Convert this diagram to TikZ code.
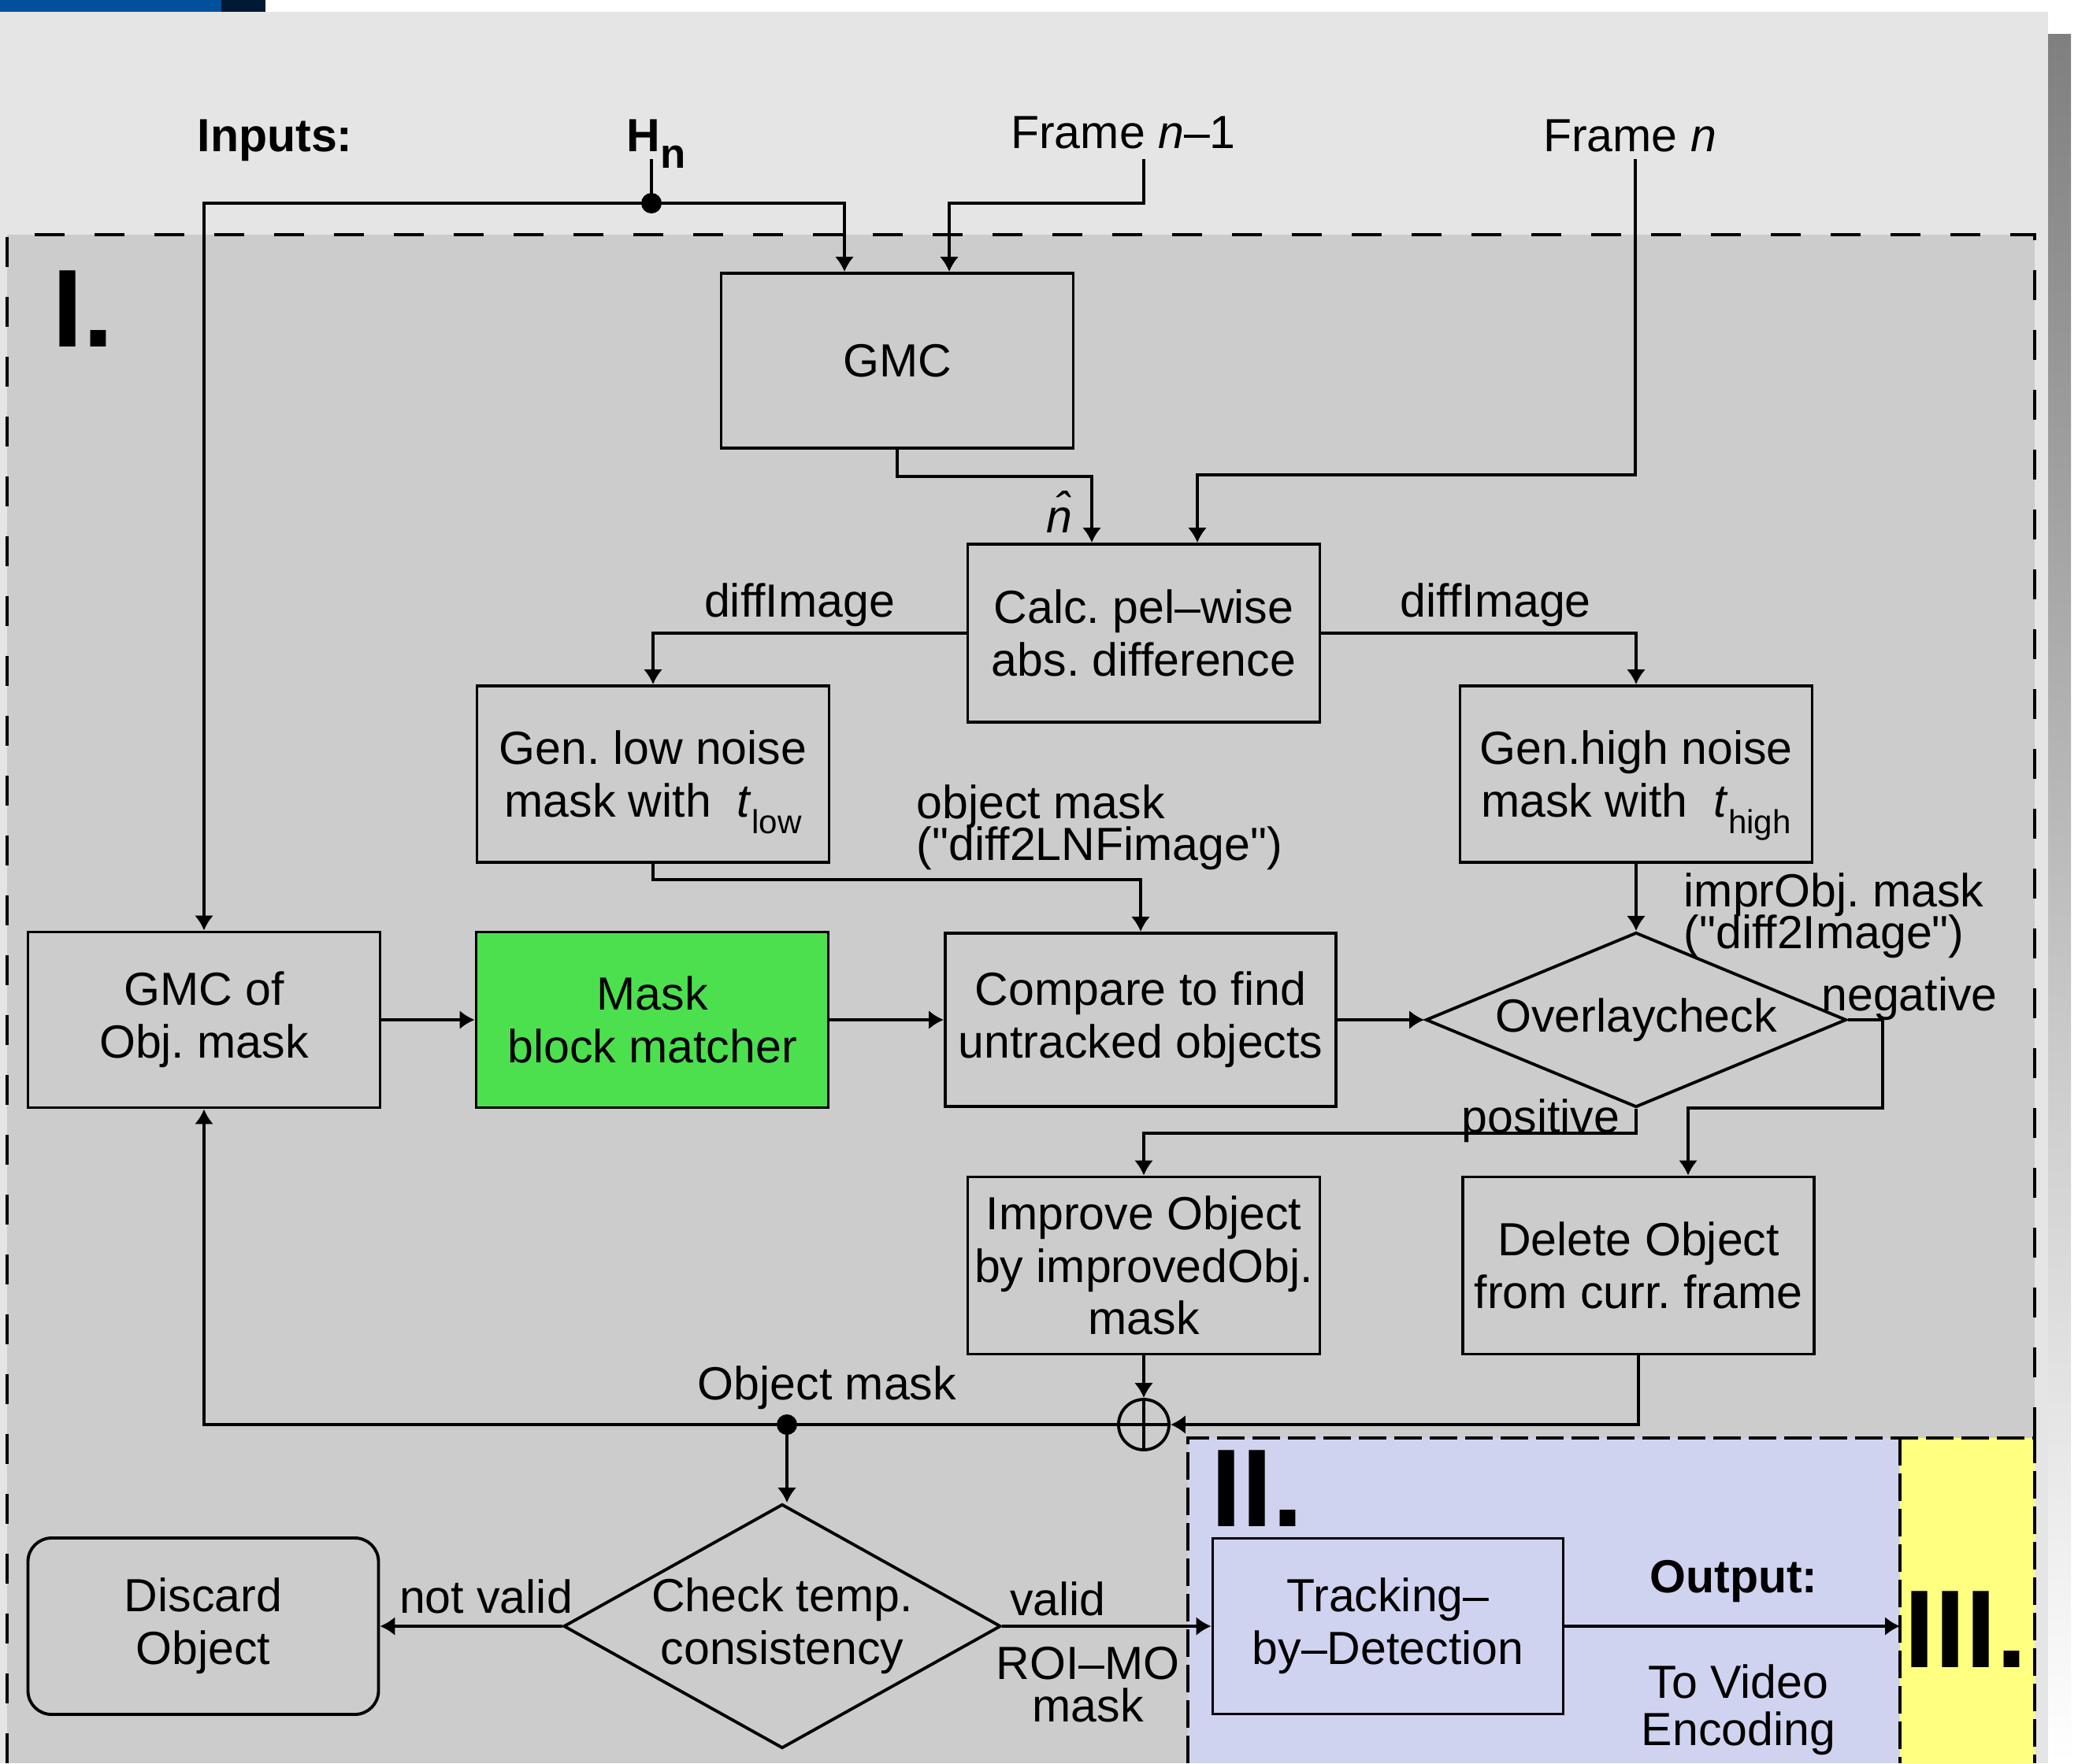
\documentclass[tikz,border=0pt]{standalone}
\usepackage{fontspec}
\setmainfont{Liberation Sans}
\usetikzlibrary{arrows.meta,shapes.geometric,positioning}
\definecolor{panel}{HTML}{E5E5E5}
\definecolor{zoneone}{HTML}{CCCCCC}
\definecolor{zonetwo}{HTML}{D0D3EF}
\definecolor{zonethree}{HTML}{FFFF80}
\definecolor{matchgreen}{HTML}{4CE04F}
\definecolor{barblue}{HTML}{00509B}
\definecolor{barnavy}{HTML}{001A33}
\definecolor{shade}{HTML}{939393}
\newcommand{\lowsub}[1]{\raisebox{-6pt}[0pt][0pt]{\fontsize{12}{12}\selectfont #1}}
\frenchspacing
\setlength{\lineskiplimit}{-10pt}
\begin{document}
\begin{tikzpicture}[font=\fontsize{16.8}{19}\selectfont,>={Latex[length=1.9mm,width=2.4mm]},
  box/.style={draw,line width=1.1pt,inner sep=0pt,align=center,minimum width=4.47cm,minimum height=2.23cm},
  dec/.style={draw,diamond,line width=1.1pt,inner sep=0pt,align=center},
  lbl/.style={inner sep=0pt,align=center},
  tight/.style={font=\fontsize{16.8}{15.2}\selectfont},
  wire/.style={line width=0.95pt},
  zone/.style={line width=1.3pt,dash pattern=on 3.8mm off 3.8mm},
  subzone/.style={line width=1.3pt,dash pattern=on 3.5mm off 1mm},
  bignum/.style={inner sep=0pt,anchor=base west,font=\fontsize{40}{40}\selectfont\bfseries}]
\useasboundingbox (0,0) rectangle (26.38,-22.39);
\fill[white] (0,0) rectangle (26.38,-22.39);
\fill[barblue] (0,0) rectangle (2.81,-0.15);
\fill[barnavy] (2.81,0) rectangle (3.37,-0.15);
\fill[panel] (0,-0.15) rectangle (26.00,-22.39);
\fill[shade] (26.00,-0.43) rectangle (26.29,-22.39);
\fill[zoneone] (0.09,-2.98) rectangle (25.83,-22.39);
\fill[zonetwo] (15.08,-18.26) rectangle (24.12,-22.39);
\fill[zonethree] (24.12,-18.26) rectangle (25.83,-22.39);
\draw[zone] (0.09,-22.39) |- (25.83,-2.98) -- (25.83,-18.26);
\draw[subzone] (15.08,-22.39) |- (25.83,-18.26) -- (25.83,-22.39);
\draw[subzone] (24.12,-18.26) -- (24.12,-22.39);

\node[bignum] (one) at (0.66,-4.40) {I.};
\node[bignum] (two) at (15.37,-19.38) {II.};
\node[bignum] (three) at (24.17,-21.17) {III.};

\node[lbl,anchor=base west,font=\fontsize{16.8}{19}\selectfont\bfseries] (inputs) at (2.50,-1.92) {Inputs:};
\node[lbl,anchor=base west,font=\fontsize{16.8}{19}\selectfont\bfseries] (hn) at (7.95,-1.92) {H\raisebox{-6pt}{\fontsize{15}{15}\selectfont n}};
\node[lbl,anchor=base] (fprev) at (14.26,-1.88) {Frame \textit{n}–1};
\node[lbl,anchor=base] (fcur) at (20.69,-1.92) {Frame \textit{n}};
\coordinate (hnfoot) at (8.27,-2.02);
\coordinate (hdot) at (8.27,-2.58);
\coordinate (fpfoot) at (14.52,-2.02);
\coordinate (fpbend) at (14.52,-2.58);
\coordinate (fcfoot) at (20.76,-2.02);
\coordinate (fcbend) at (20.76,-6.03);

\node[box,minimum height=2.22cm] (gmc) at (11.39,-4.58) {GMC};
\node[box,minimum height=2.26cm] (calc) at (14.52,-8.04) {Calc. pel–wise\\abs. difference};
\node[box,minimum height=2.24cm] (low) at (8.29,-9.83) {Gen. low noise\\mask with \ \textit{t}\lowsub{low}};
\node[box,minimum height=2.24cm] (high) at (20.77,-9.83) {Gen.high noise\\mask with \ \textit{t}\lowsub{high}};
\node[box] (gmcobj) at (2.59,-12.95) {GMC of\\Obj. mask};
\node[box,fill=matchgreen] (matcher) at (8.28,-12.95) {Mask\\block matcher};
\node[box,minimum width=4.96cm,minimum height=2.20cm] (compare) at (14.48,-12.95) {Compare to find\\untracked objects};
\node[dec,aspect=2.4,minimum width=5.34cm,minimum height=2.22cm] (overlay) at (20.77,-12.95) {Overlaycheck};
\node[box,minimum height=2.25cm] (improve) at (14.52,-16.07) {Improve Object\\by improvedObj.\\mask};
\node[box,minimum width=4.46cm,minimum height=2.25cm] (delete) at (20.80,-16.07) {Delete Object\\from curr. frame};
\node[draw,circle,line width=1.1pt,minimum size=0.64cm,inner sep=0pt] (sum) at (14.52,-18.09) {};
\node[dec,aspect=1.77,minimum width=5.55cm,minimum height=3.1cm] (check) at (9.93,-20.65) {Check temp.\\consistency};
\node[box,rounded corners=0.3cm,minimum width=4.45cm,minimum height=2.24cm] (discard) at (2.58,-20.65) {Discard\\Object};
\node[box,minimum width=4.45cm] (track) at (17.62,-20.65) {Tracking–\\by–Detection};
\coordinate (negbend) at (23.90,-14.07);
\coordinate (odot) at (9.99,-18.09);
\coordinate (out) at (24.12,-20.65);

\draw[wire] (sum.north) -- (sum.south) (sum.west) -- (sum.east);
\draw[wire] (hnfoot) -- (hdot);
\fill (hdot) circle (0.13);
\draw[wire,->] (hdot) -| ([xshift=-0.67cm]gmc.north);
\draw[wire,->] (hdot) -| (gmcobj.north);
\draw[wire,->] (fpfoot) -- (fpbend) -| ([xshift=0.66cm]gmc.north);
\draw[wire,->] (fcfoot) -- (fcbend) -| ([xshift=0.68cm]calc.north);
\draw[wire,->] (gmc.south) -- ++(0,-0.34) -| ([xshift=-0.66cm]calc.north);
\node[lbl] (nhat) at (13.50,-6.50) {\textit{\^{n}}};
\draw[wire,->] (calc.west) -| node[lbl,pos=0.266,above=0.7mm]{diffImage} (low.north);
\draw[wire,->] (calc.east) -| node[lbl,pos=0.277,above=0.7mm]{diffImage} (high.north);
\path[wire,->]
(high.south) edge (overlay.north)
(gmcobj.east) edge (matcher.west)
(matcher.east) edge (compare.west)
(compare.east) edge (overlay.west)
(improve.south) edge (sum.north)
(odot) edge (odot |- check.north)
(check.west) edge (discard.east)
(check.east) edge (track.west)
(track.east) edge (out);
\draw[wire,->] (low.south) -- ++(0,-0.2) -| (compare.north);
\draw[wire,->] (overlay.east) -| (negbend) -| ([xshift=0.63cm]delete.north);
\draw[wire,->] (overlay.south) -- ++(0,-0.31) -| (improve.north);
\draw[wire,->] (delete.south) |- (sum.east);
\draw[wire,->] (sum.west) -| (gmcobj.south);
\fill (odot) circle (0.13);

\node[lbl,tight,anchor=north west,align=left] (lnf) at (11.63,-9.96) {object mask\\(\textquotedbl diff2LNFimage\textquotedbl)};
\node[lbl,tight,anchor=north west,align=left] (impr) at (21.37,-11.08) {imprObj. mask\\(\textquotedbl diff2Image\textquotedbl)};
\node[lbl,anchor=base] (neg) at (24.24,-12.83) {negative};
\node[lbl,anchor=base] (pos) at (19.56,-14.38) {positive};
\node[lbl,anchor=base] (objm) at (10.50,-17.77) {Object mask};
\node[lbl,anchor=base] (nval) at (6.17,-20.48) {not valid};
\node[lbl,anchor=base] (val) at (13.43,-20.51) {valid};
\node[lbl,tight,anchor=north] (roi) at (13.81,-20.91) {ROI–MO\\mask};
\node[lbl,anchor=base,font=\fontsize{16.8}{19}\selectfont\bfseries] (outp) at (22.01,-20.22) {Output:};
\node[lbl,anchor=north,font=\fontsize{16.8}{17}\selectfont] (enc) at (22.07,-21.13) {To Video\\Encoding};
\end{tikzpicture}
\end{document}
